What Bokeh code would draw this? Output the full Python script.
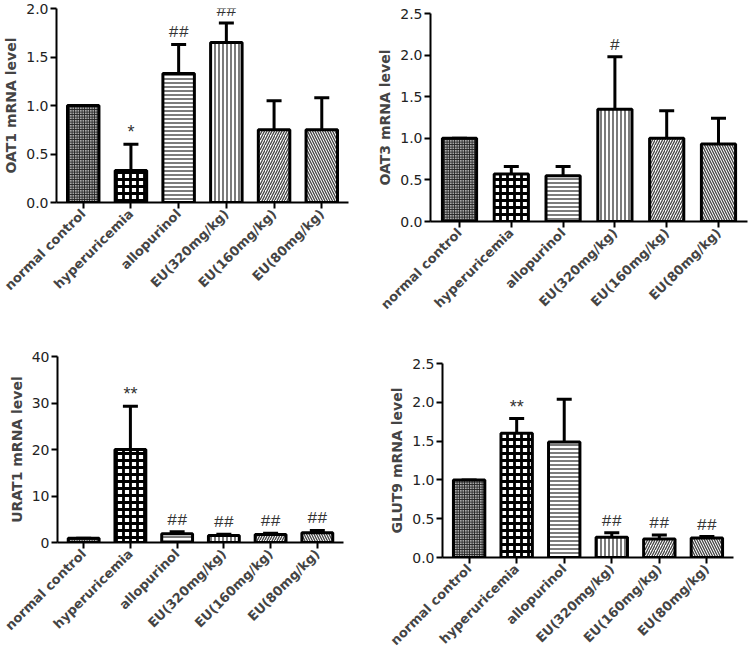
from bokeh.plotting import figure
from bokeh.layouts import column, row
from bokeh.models import ColumnDataSource, Whisker, TeeHead, FactorRange, Range1d
from bokeh.embed import file_html
from bokeh.resources import INLINE
import math

groups = ["normal control", "hyperuricemia", "allopurinol",
          "EU(320mg/kg)", "EU(160mg/kg)", "EU(80mg/kg)"]

oat1_mean = [1.0, 0.33, 1.33, 1.65, 0.75, 0.75]
oat1_err = [1.0, 0.60, 1.63, 1.85, 1.05, 1.08]
oat1_sig = ["", "*", "##", "##", "", ""]

oat3_mean = [1.0, 0.57, 0.55, 1.35, 1.0, 0.93]
oat3_err = [1.0, 0.66, 0.66, 1.98, 1.33, 1.24]
oat3_sig = ["", "", "", "#", "", ""]

urat1_mean = [0.9, 20.0, 1.9, 1.5, 1.7, 2.1]
urat1_err = [0.9, 29.3, 2.3, 1.8, 2.0, 2.6]
urat1_sig = ["", "**", "##", "##", "##", "##"]

glut9_mean = [1.0, 1.60, 1.49, 0.26, 0.24, 0.25]
glut9_err = [1.0, 1.79, 2.04, 0.32, 0.29, 0.27]
glut9_sig = ["", "**", "", "##", "##", "##"]

fill_colors = ["#a8a8a8", "white", "white", "white", "white", "white"]
hatch_patterns = ["cross", "cross", "horizontal_line", "vertical_line",
                  "right_diagonal_line", "left_diagonal_line"]
hatch_scales = [2.5, 7, 4, 4, 5, 5]
hatch_weights = [1.1, 2.8, 1.2, 1.2, 1.3, 1.3]
hatch_colors = ["#222222", "black", "#222222", "#222222", "#444444", "#444444"]

FONT = "DejaVu Sans"


def panel(title, means, errs, sigs, ymax, yticks, ylabels, w, h, bl, br, bt, bb):
    p = figure(x_range=FactorRange(*groups, range_padding=0.02),
               y_range=Range1d(0, ymax), width=w, height=h,
               output_backend="svg", toolbar_location=None,
               min_border_left=bl, min_border_right=br,
               min_border_top=bt, min_border_bottom=bb)
    fonts = ["Liberation Sans" if "*" in s else "Liberation Mono" for s in sigs]
    sizes = ["18px" if "*" in s else "17px" for s in sigs]
    src = ColumnDataSource(dict(x=groups, top=means, err=errs, sig=sigs,
                                fc=fill_colors, hp=hatch_patterns,
                                hs=hatch_scales, hw=hatch_weights,
                                hc=hatch_colors, font=fonts, fs=sizes))
    wh = Whisker(source=src, base="x", upper="err", lower="top",
                 line_width=3, line_color="black",
                 upper_head=TeeHead(size=15, line_width=3, line_color="black"),
                 lower_head=None, level="underlay")
    p.add_layout(wh)
    p.vbar(x="x", top="top", width=0.66, source=src, fill_color="fc",
           line_color="black", line_width=3, hatch_pattern="hp",
           hatch_scale="hs", hatch_weight="hw", hatch_color="hc")
    p.text(x="x", y="err", text="sig", source=src, text_align="center",
           text_baseline="bottom", y_offset=-2, text_font_size="fs",
           text_color="#333333", text_font="font")

    p.xgrid.grid_line_color = None
    p.ygrid.grid_line_color = None
    p.outline_line_color = None
    p.yaxis.ticker = yticks
    p.yaxis.major_label_overrides = {t: l for t, l in zip(yticks, ylabels)}
    p.yaxis.axis_label = title
    p.yaxis.axis_label_text_font = FONT
    p.yaxis.axis_label_text_font_style = "bold"
    p.yaxis.axis_label_text_font_size = "14px"
    p.yaxis.axis_label_standoff = 4
    p.yaxis.major_label_text_font = FONT
    p.yaxis.major_label_text_font_size = "14px"
    p.yaxis.major_label_text_color = "#222222"
    p.yaxis.major_label_standoff = 2
    p.yaxis.minor_tick_line_color = None
    for ax in (p.xaxis[0], p.yaxis[0]):
        ax.axis_line_width = 2
        ax.major_tick_line_width = 2
        ax.major_tick_out = 6
        ax.major_tick_in = 0
    p.xaxis.major_label_orientation = math.pi / 4
    p.xaxis.major_label_text_font = FONT
    p.xaxis.major_label_text_font_style = "bold"
    p.xaxis.major_label_text_font_size = "13px"
    p.xaxis.major_label_standoff = 3
    p.xaxis.group_text_font_size = "0px"
    return p


p1 = panel("OAT1 mRNA level", oat1_mean, oat1_err, oat1_sig, 2.0,
           [0, 0.5, 1.0, 1.5, 2.0], ["0.0", "0.5", "1.0", "1.5", "2.0"],
           370, 330, 55, 22, 8, 128)
p2 = panel("OAT3 mRNA level", oat3_mean, oat3_err, oat3_sig, 2.5,
           [0, 0.5, 1.0, 1.5, 2.0, 2.5], ["0.0", "0.5", "1.0", "1.5", "2.0", "2.5"],
           378, 330, 60, 1, 13, 109)
p3 = panel("URAT1 mRNA level", urat1_mean, urat1_err, urat1_sig, 40,
           [0, 10, 20, 30, 40], ["0", "10", "20", "30", "40"],
           370, 326, 57, 27, 26, 114)
p4 = panel("GLUT9 mRNA level", glut9_mean, glut9_err, glut9_sig, 2.5,
           [0, 0.5, 1.0, 1.5, 2.0, 2.5], ["0.0", "0.5", "1.0", "1.5", "2.0", "2.5"],
           378, 326, 72, 15, 33, 99)

layout = column(row(column(p1), column(p2)), row(column(p3), column(p4)))
open("out.html", "w").write(file_html(layout, INLINE))
